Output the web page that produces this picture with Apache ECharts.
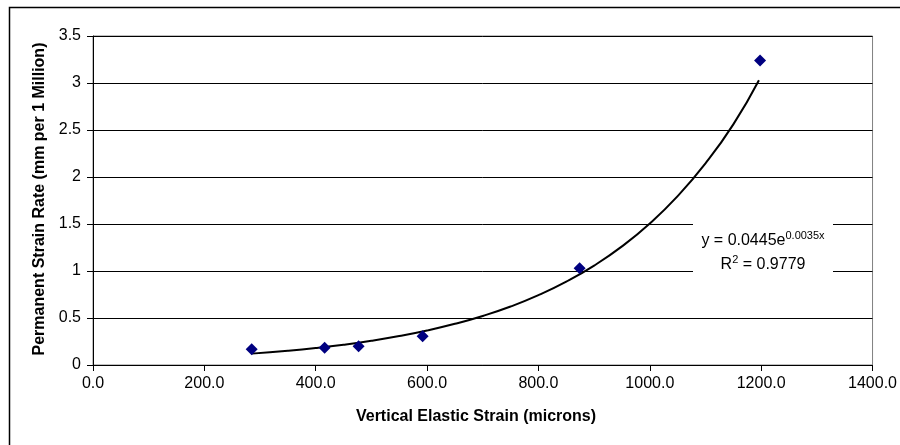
<!DOCTYPE html>
<html><head><meta charset="utf-8">
<script src="https://cdn.jsdelivr.net/npm/echarts@6/dist/echarts.min.js"></script>
<style>html,body{margin:0;padding:0;background:#fff}#c{width:900px;height:445px}</style>
</head><body><div id="c"></div>
<script>
// Measured data points
const strainX = [285, 416, 477, 592, 874, 1198];
const rateY   = [0.167, 0.184, 0.20, 0.307, 1.03, 3.24];
// Exponential trendline as drawn in the picture
const trendX = [285, 350, 400, 450, 500, 550, 600, 650, 700, 750, 800, 850, 900, 950, 1000, 1050, 1100, 1150, 1196];
const trendY = [0.121, 0.152, 0.181, 0.216, 0.258, 0.308, 0.367, 0.438, 0.522, 0.622, 0.743, 0.887, 1.058, 1.262, 1.506, 1.797, 2.145, 2.56, 3.03];
const xTitle = 'Vertical Elastic Strain (microns)';
const yTitle = 'Permanent Strain Rate (mm per 1 Million)';
const eqMain = 'y = 0.0445e';
const eqExp = '0.0035x';
const r2Text = '= 0.9779';

const FONT = '"Liberation Sans", Arial, sans-serif';
const chart = echarts.init(document.getElementById('c'), null, {renderer: 'canvas'});
const L = 93, R = 873, T = 36, B = 365;
chart.setOption({
  animation: false,
  backgroundColor: '#fff',
  grid: {left: L, right: 900 - R, top: T, bottom: 445 - B, show: true, borderColor: '#808080', borderWidth: 1, backgroundColor: '#fff'},
  xAxis: {
    type: 'value', min: 0, max: 1400, interval: 200,
    axisLine: {show: true, onZero: false, lineStyle: {color: '#000', width: 1}},
    axisTick: {show: true, inside: false, length: 6, lineStyle: {color: '#000'}},
    axisLabel: {color: '#000', fontFamily: FONT, fontSize: 16, margin: 11, formatter: v => v.toFixed(1)},
    splitLine: {show: false}
  },
  yAxis: {
    type: 'value', min: 0, max: 3.5, interval: 0.5,
    axisLine: {show: true, onZero: false, lineStyle: {color: '#000', width: 1}},
    axisTick: {show: true, inside: false, length: 6, lineStyle: {color: '#000'}},
    axisLabel: {color: '#000', fontFamily: FONT, fontSize: 16, margin: 12},
    splitLine: {show: true, lineStyle: {color: '#000', width: 1}}
  },
  series: [
    {
      type: 'line', data: trendX.map((x, i) => [x, trendY[i]]), smooth: true, showSymbol: false,
      lineStyle: {color: '#000', width: 2}, z: 2, silent: true
    },
    {
      type: 'scatter', data: strainX.map((x, i) => [x, rateY[i]]), symbol: 'diamond', symbolSize: [12, 12],
      itemStyle: {color: '#000080', opacity: 1}, z: 3
    }
  ],
  graphic: [
    {type: 'rect', shape: {x: 9.5, y: 7.5, width: 1000, height: 1000}, style: {fill: 'none', stroke: '#000', lineWidth: 1.5}, z: 100, silent: true},
    {type: 'rect', shape: {x: 693, y: 219, width: 140, height: 59}, style: {fill: '#fff'}, z: 50},
    {type: 'text', x: 763, y: 241, z: 51, style: {
      text: '{m|' + eqMain + '}{s|' + eqExp + '}', align: 'center', verticalAlign: 'middle',
      rich: {m: {fontFamily: FONT, fontSize: 16, fill: '#000'}, s: {fontFamily: FONT, fontSize: 11, fill: '#000', verticalAlign: 'bottom', padding: [0, 0, 11, 0]}}
    }},
    {type: 'text', x: 763, y: 265, z: 51, style: {
      text: '{m|R}{s|2}{m| ' + r2Text + '}', align: 'center', verticalAlign: 'middle',
      rich: {m: {fontFamily: FONT, fontSize: 16, fill: '#000'}, s: {fontFamily: FONT, fontSize: 11, fill: '#000', padding: [0, 0, 10, 0]}}
    }},
    {type: 'text', x: 476, y: 417, style: {text: xTitle, font: 'bold 16px ' + FONT, fill: '#000', align: 'center', verticalAlign: 'middle'}},
    {type: 'text', x: 40, y: 199, rotation: Math.PI / 2, style: {text: yTitle, font: 'bold 16px ' + FONT, fill: '#000', align: 'center', verticalAlign: 'middle'}}
  ]
});
</script></body></html>
